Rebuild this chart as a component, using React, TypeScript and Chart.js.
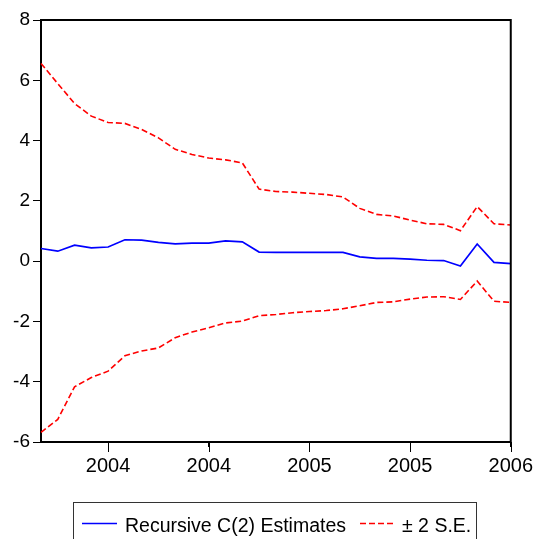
import React, { useEffect, useRef } from "react";
import { Chart, registerables } from "chart.js";

Chart.register(...registerables);

const categories = [
  "2003M09", "2003M10", "2003M11", "2003M12",
  "2004M01", "2004M02", "2004M03", "2004M04", "2004M05", "2004M06",
  "2004M07", "2004M08", "2004M09", "2004M10", "2004M11", "2004M12",
  "2005M01", "2005M02", "2005M03", "2005M04", "2005M05", "2005M06",
  "2005M07", "2005M08", "2005M09", "2005M10", "2005M11", "2005M12",
  "2006M01",
];

const tickLabels: Record<number, string> = { 4: "2004", 10: "2004", 16: "2005", 22: "2005", 28: "2006" };

const estimates = [
  0.42, 0.33, 0.53, 0.44, 0.47, 0.71, 0.70, 0.62, 0.57, 0.60,
  0.60, 0.67, 0.64, 0.30, 0.29, 0.29, 0.29, 0.29, 0.29, 0.14,
  0.09, 0.09, 0.07, 0.03, 0.02, -0.16, 0.57, -0.04, -0.08,
];

const upperBand = [
  6.56, 5.89, 5.23, 4.81, 4.60, 4.57, 4.37, 4.09, 3.71, 3.54,
  3.42, 3.36, 3.26, 2.39, 2.31, 2.29, 2.25, 2.21, 2.13, 1.75,
  1.55, 1.50, 1.36, 1.24, 1.22, 1.01, 1.81, 1.24, 1.20,
];

const lowerBand = [
  -5.68, -5.25, -4.17, -3.86, -3.65, -3.14, -2.98, -2.88, -2.54, -2.35,
  -2.21, -2.05, -1.99, -1.81, -1.77, -1.71, -1.67, -1.64, -1.58, -1.48,
  -1.37, -1.35, -1.26, -1.19, -1.18, -1.27, -0.66, -1.33, -1.37,
];

const framePlugin = {
  id: "frame",
  afterDraw(chart: any) {
    const { ctx, chartArea } = chart;
    const xs = chart.scales.x;
    ctx.save();
    ctx.strokeStyle = "#000";
    ctx.lineWidth = 2;
    ctx.beginPath();
    ctx.moveTo(chartArea.left - 1, chartArea.top);
    ctx.lineTo(chartArea.right, chartArea.top);
    ctx.lineTo(chartArea.right, chartArea.bottom + 1);
    ctx.stroke();
    // longer major ticks
    ctx.lineWidth = 1;
    Object.keys(tickLabels).forEach((k) => {
      const px = Math.round(xs.getPixelForValue(Number(k))) + 0.5;
      ctx.beginPath();
      ctx.moveTo(px, chartArea.bottom);
      ctx.lineTo(px, chartArea.bottom + 10);
      ctx.stroke();
    });
    ctx.restore();
  },
};

export default function App() {
  const ref = useRef<HTMLCanvasElement>(null);
  useEffect(() => {
    if (!ref.current) return;
    const chart = new Chart(ref.current, {
      type: "line",
      data: {
        labels: categories,
        datasets: [
          {
            label: "Recursive C(2) Estimates",
            data: estimates,
            borderColor: "#0000FF",
            borderWidth: 1.7,
            pointRadius: 0,
            tension: 0,
          },
          {
            label: "± 2 S.E.",
            data: upperBand,
            borderColor: "#FF0000",
            borderWidth: 1.6,
            borderDash: [6, 3],
            pointRadius: 0,
            tension: 0,
          },
          {
            label: "lower",
            data: lowerBand,
            borderColor: "#FF0000",
            borderWidth: 1.6,
            borderDash: [6, 3],
            pointRadius: 0,
            tension: 0,
          },
        ],
      },
      options: {
        animation: false,
        responsive: false,
        devicePixelRatio: 1,
        layout: { padding: { left: 0, top: 20, right: 29, bottom: 57 } },
        plugins: { legend: { display: false }, tooltip: { enabled: false } },
        scales: {
          x: {
            type: "category",
            offset: false,
            grid: {
              display: true,
              drawOnChartArea: false,
              drawTicks: true,
              tickLength: 5,
              tickColor: "#000",
              tickWidth: 1,
            },
            border: { display: true, color: "#000", width: 2 },
            ticks: {
              autoSkip: false,
              maxRotation: 0,
              minRotation: 0,
              padding: 7,
              color: "#000",
              font: { family: "'Liberation Sans', Arial", size: 20 },
              callback: (_v: any, i: number) => (tickLabels[i] !== undefined ? tickLabels[i] : null),
            },
            afterFit: (s: any) => {
              s.height = 40;
            },
          },
          y: {
            min: -6,
            max: 8,
            grid: {
              display: true,
              drawOnChartArea: false,
              drawTicks: true,
              tickLength: 8,
              tickColor: "#000",
            },
            border: { display: true, color: "#000", width: 2 },
            ticks: {
              stepSize: 2,
              padding: 3,
              color: "#000",
              font: { family: "'Liberation Sans', Arial", size: 19 },
            },
            afterFit: (s: any) => {
              s.width = 41;
            },
          },
        },
      },
      plugins: [framePlugin],
    });
    return () => chart.destroy();
  }, []);

  const legendFont = "'Liberation Sans', Arial, sans-serif";
  return (
    <div style={{ position: "fixed", left: 0, top: 0, width: 540, height: 539, overflow: "hidden", background: "#fff" }}>
      <canvas ref={ref} width={540} height={539} style={{ position: "absolute", left: 0, top: 0 }} />
      <div
        style={{
          position: "absolute",
          left: 73,
          top: 502,
          width: 404,
          height: 50,
          border: "1px solid #333",
          boxSizing: "border-box",
        }}
      />
      <svg width={540} height={40} style={{ position: "absolute", left: 0, top: 503 }}>
        <line x1={82} y1={20.5} x2={117} y2={20.5} stroke="#0000FF" strokeWidth={1.5} />
        <line x1={360} y1={20.5} x2={394} y2={20.5} stroke="#FF0000" strokeWidth={1.5} strokeDasharray="6,3" />
      </svg>
      <span
        style={{
          position: "absolute",
          left: 125,
          top: 515,
          fontFamily: legendFont,
          fontSize: 19.5,
          lineHeight: "20px",
          whiteSpace: "nowrap",
          color: "#000",
        }}
      >
        Recursive C(2) Estimates
      </span>
      <span
        style={{
          position: "absolute",
          left: 402,
          top: 515,
          fontFamily: legendFont,
          fontSize: 19.5,
          lineHeight: "20px",
          whiteSpace: "nowrap",
          color: "#000",
        }}
      >
        ± 2 S.E.
      </span>
    </div>
  );
}
